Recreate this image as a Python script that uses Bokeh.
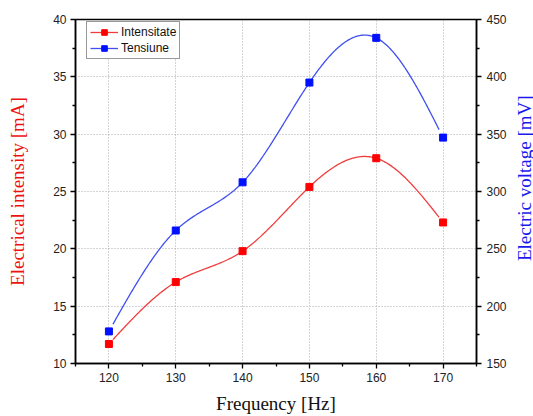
import math
import numpy as np
from bokeh.plotting import figure
from bokeh.layouts import row
from bokeh.models import (Range1d, LinearAxis, FixedTicker, Legend, LegendItem, Label)
from bokeh.embed import file_html
from bokeh.resources import INLINE

# ---- data ----
freq = [120, 130, 140, 150, 160, 170]
intensity = [11.7, 17.1, 19.8, 25.4, 27.9, 22.3]      # mA
voltage = [178, 266, 308, 395, 434, 347]               # mV

x_ticks = [120, 130, 140, 150, 160, 170]
x_minor = [115, 125, 135, 145, 155, 165, 175]
yl_ticks = [10, 15, 20, 25, 30, 35, 40]
yl_minor = [12.5, 17.5, 22.5, 27.5, 32.5, 37.5]
yr_ticks = [150, 200, 250, 300, 350, 400, 450]
yr_minor = [175, 225, 275, 325, 375, 425]

x_title = "Frequency [Hz]"
yl_title = "Electrical intensity [mA]"
yr_title = "Electric voltage [mV]"

RED_LINE = "#f03c3c"
RED_MARK = "#ff0000"
BLUE_LINE = "#3f4ff0"
BLUE_MARK = "#0010ff"


def natural_spline(x, y, xs):
    x = np.asarray(x, float)
    y = np.asarray(y, float)
    n = len(x)
    h = np.diff(x)
    A = np.zeros((n, n))
    b = np.zeros(n)
    A[0, 0] = 1
    A[-1, -1] = 1
    for i in range(1, n - 1):
        A[i, i - 1] = h[i - 1]
        A[i, i] = 2 * (h[i - 1] + h[i])
        A[i, i + 1] = h[i]
        b[i] = 3 * ((y[i + 1] - y[i]) / h[i] - (y[i] - y[i - 1]) / h[i - 1])
    c = np.linalg.solve(A, b)
    bc = (y[1:] - y[:-1]) / h - h * (2 * c[:-1] + c[1:]) / 3
    d = (c[1:] - c[:-1]) / (3 * h)
    idx = np.clip(np.searchsorted(x, xs) - 1, 0, n - 2)
    dx = xs - x[idx]
    return y[idx] + bc[idx] * dx + c[idx] * dx ** 2 + d[idx] * dx ** 3


gap = 0.6
xs = np.linspace(freq[0] + gap, freq[-1] - gap, 300)
red_curve = natural_spline(freq, intensity, xs)
blue_curve = natural_spline(freq, voltage, xs)

p = figure(width=511, height=416, x_range=Range1d(115, 175), y_range=Range1d(10, 40),
           output_backend="svg", toolbar_location=None,
           min_border_left=75, min_border_right=35, min_border_top=19, min_border_bottom=53)
p.extra_y_ranges = {"v": Range1d(150, 450)}
p.background_fill_color = "white"
p.border_fill_color = "white"
p.outline_line_color = "black"
p.outline_line_width = 1.5

TICK_FONT = "Liberation Sans"
TITLE_FONT = "Liberation Serif"


def style_axis(ax):
    ax.axis_line_width = 1.5
    ax.axis_line_color = "black"
    ax.major_tick_line_color = "black"
    ax.minor_tick_line_color = "black"
    ax.major_tick_line_width = 1.3
    ax.minor_tick_line_width = 1.3
    ax.major_tick_in = 0
    ax.major_tick_out = 5
    ax.minor_tick_in = 0
    ax.minor_tick_out = 3
    ax.major_label_text_font = TICK_FONT
    ax.major_label_text_font_size = "12px"
    ax.major_label_text_color = "#222222"
    ax.major_label_standoff = 4
    ax.axis_label_text_font = TITLE_FONT
    ax.axis_label_text_font_size = "19px"
    ax.axis_label_text_font_style = "normal"


xa = p.xaxis[0]
xa.ticker = FixedTicker(ticks=x_ticks, minor_ticks=x_minor)
xa.axis_label = x_title
style_axis(xa)
xa.axis_label_standoff = 8
xa.axis_label_text_color = "#111111"

ya = p.yaxis[0]
ya.ticker = FixedTicker(ticks=yl_ticks, minor_ticks=yl_minor)
ya.axis_label = yl_title
style_axis(ya)
ya.axis_label_standoff = 22
ya.axis_label_text_color = "#ee1111"

ra = LinearAxis(y_range_name="v", ticker=FixedTicker(ticks=yr_ticks, minor_ticks=yr_minor))
style_axis(ra)
ra.major_label_standoff = 5
p.add_layout(ra, "right")

p.xgrid.ticker = FixedTicker(ticks=x_ticks)
p.ygrid.ticker = FixedTicker(ticks=yl_ticks)
for g in (p.xgrid, p.ygrid):
    g.grid_line_color = "#a8a8a8"
    g.grid_line_dash = "1 2"
    g.grid_line_width = 1

r_line = p.line(xs, red_curve, line_color=RED_LINE, line_width=1.3)
r_pts = p.scatter(freq, intensity, marker="square", size=7, fill_color=RED_MARK, line_color=RED_MARK)
b_line = p.line(xs, blue_curve, line_color=BLUE_LINE, line_width=1.3, y_range_name="v")
b_pts = p.scatter(freq, voltage, marker="square", size=7, fill_color=BLUE_MARK, line_color=BLUE_MARK,
                  y_range_name="v")

legend = Legend(items=[LegendItem(label="Intensitate", renderers=[r_line, r_pts]),
                       LegendItem(label="Tensiune", renderers=[b_line, b_pts])],
                location=(11, 304))
legend.label_text_font = TICK_FONT
legend.label_text_font_size = "12px"
legend.label_text_color = "#111111"
legend.glyph_width = 28
legend.glyph_height = 14
legend.label_height = 14
legend.label_standoff = 3
legend.spacing = 2
legend.padding = 3
legend.margin = 0
legend.border_line_color = "#333333"
legend.border_line_width = 1
legend.background_fill_alpha = 1
p.add_layout(legend)

# narrow strip holding the right-hand axis title, reading bottom-to-top
side = figure(width=22, height=416, x_range=Range1d(0, 22), y_range=Range1d(0, 416),
              output_backend="svg", toolbar_location=None,
              x_axis_type=None, y_axis_type=None,
              min_border_left=0, min_border_right=0, min_border_top=0, min_border_bottom=0)
side.outline_line_color = None
side.xgrid.visible = False
side.ygrid.visible = False
side.background_fill_color = "white"
side.border_fill_color = "white"
side.add_layout(Label(x=13, y=224, text=yr_title, angle=math.pi / 2,
                      text_align="center", text_baseline="middle",
                      text_font=TITLE_FONT, text_font_size="19px", text_color="#1a1aee"))

layout = row(p, side, spacing=0)
open("out.html", "w").write(file_html(layout, INLINE))
